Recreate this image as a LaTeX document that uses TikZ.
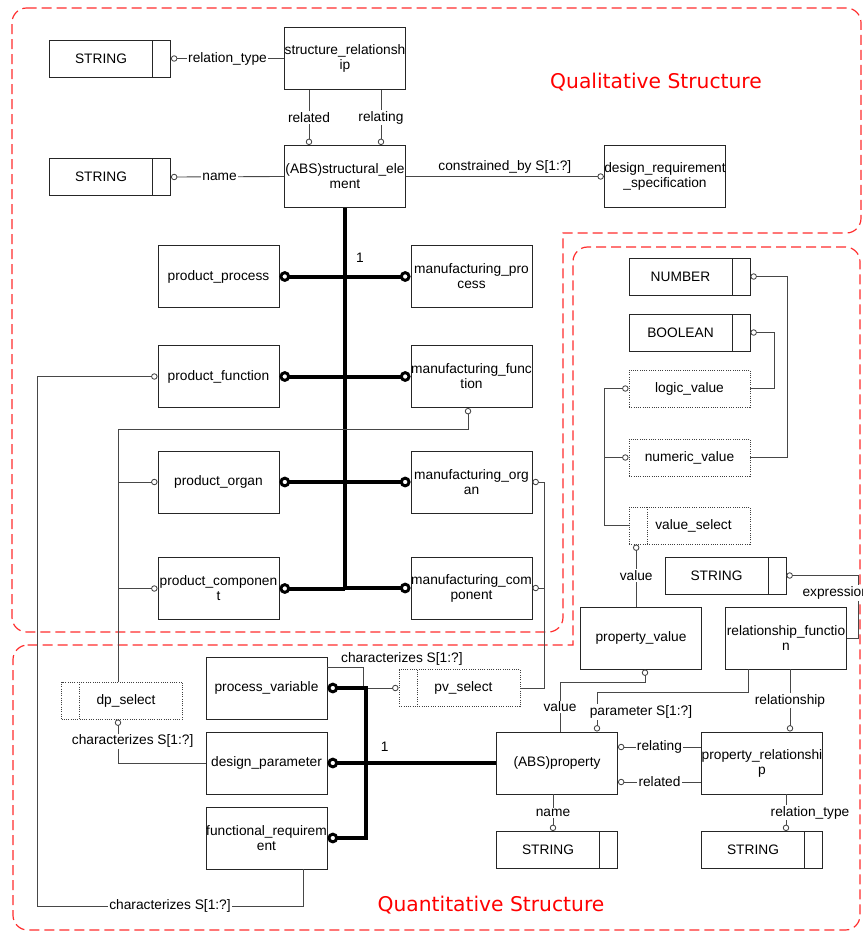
\documentclass[tikz,border=0pt]{standalone}
\usepackage{fontspec}
\setmainfont{Liberation Sans}
\newfontfamily\regionfont{DejaVu Sans}
\usetikzlibrary{arrows.meta}
\definecolor{regred}{RGB}{255,45,45}
\newcommand{\efont}{\fontsize{10.3}{11.3}\selectfont}
\tikzset{
  ent/.style={draw=black!85,line width=0.7pt,minimum width=90.75pt,minimum height=46.5pt,
              inner sep=0pt,align=center,font=\efont},
  typ/.style={ent,minimum height=27.75pt,
              path picture={\draw[black!85,line width=0.7pt]
                ([xshift=-13.5pt]path picture bounding box.north east) --
                ([xshift=-13.5pt]path picture bounding box.south east);}},
  sel/.style={ent,draw=black!75,densely dotted,minimum height=27.75pt},
  selx/.style={sel,path picture={\draw[black!75,densely dotted,line width=0.7pt]
                ([xshift=13.5pt]path picture bounding box.north west) --
                ([xshift=13.5pt]path picture bounding box.south west);}},
  rel/.style={draw=black!72,line width=0.65pt},
  super/.style={draw=black,line width=3pt},
  lbl/.style={fill=white,inner sep=1pt,font=\efont},
  region/.style={draw=regred,line width=0.9pt,dash pattern=on 7.5pt off 3.75pt},
  regtxt/.style={text=red,font=\regionfont\fontsize{15.2}{18}\selectfont},
  oc/.tip={Circle[open,length=4.8pt]},
  OC/.tip={Circle[open,length=8pt,line width=2.2pt]},
}

\begin{document}
\begin{tikzpicture}[x=0.75pt,y=-0.75pt]
  \useasboundingbox (0,0) rectangle (863,932);

  % the two dashed regions
  \draw[region,rounded corners=11pt] (12,8) -- (861,8) -- (861,233) [sharp corners] -- (563,233)
       [rounded corners=11pt] -- (563,632) -- (12,632) -- cycle;
  \draw[region,rounded corners=11pt] (13,645) [sharp corners] -- (573,645) [rounded corners=11pt]
       -- (573,247) -- (860,247) -- (860,930) -- (13,930) -- cycle;
  \node[regtxt] (qlt) at (656,82) {Qualitative Structure};
  \node[regtxt] (qnt) at (491,905) {Quantitative Structure};

  % qualitative part
  \node[typ] (s1) at (110,58.5) {STRING\hspace*{13.5pt}};
  \node[ent] (sr) at (345,58.5) {structure\_relationsh\\ip};
  \node[typ] (s2) at (110,177) {STRING\hspace*{13.5pt}};
  \node[ent] (se) at (345,176.5) {(ABS)structural\_ele\\ment};
  \node[ent] (drs) at (665,176.5) {design\_requirement\\\_specification};

  \node[ent] (pp) at (218.5,276.5) {product\_process};
  \node[ent] (pf) at (218.5,376.5) {product\_function};
  \node[ent] (po) at (218.5,482) {product\_organ};
  \node[ent] (pc) at (218.5,588.5) {product\_componen\\t};
  \node[ent] (mp) at (471.5,276.5) {manufacturing\_pro\\cess};
  \node[ent] (mf) at (471.5,376.5) {manufacturing\_func\\tion};
  \node[ent] (mo) at (471.5,482) {manufacturing\_org\\an};
  \node[ent] (mc) at (471.5,588) {manufacturing\_com\\ponent};

  % value types
  \node[typ] (num) at (689.5,276.5) {NUMBER\hspace*{13.5pt}};
  \node[typ] (bool) at (689.5,332.5) {BOOLEAN\hspace*{13.5pt}};
  \node[sel] (lv) at (689.5,388.5) {logic\_value};
  \node[sel] (nv) at (689.5,457.5) {numeric\_value};
  \node[selx] (vs) at (689.5,525.5) {\hspace*{6pt}value\_select};
  \node[typ] (s3) at (725.5,575.5) {STRING\hspace*{13.5pt}};

  % quantitative part
  \node[ent] (pv) at (641,638) {property\_value};
  \node[ent] (rf) at (786,638) {relationship\_functio\\n};
  \node[ent] (prop) at (557,763) {(ABS)property};
  \node[ent] (prel) at (762,763) {property\_relationshi\\p};
  \node[typ] (s4) at (557,850) {STRING\hspace*{13.5pt}};
  \node[typ] (s5) at (762,850) {STRING\hspace*{13.5pt}};

  \node[selx] (dps) at (122,700.5) {\hspace*{6pt}dp\_select};
  \node[ent] (pvar) at (266.5,688) {process\_variable};
  \node[ent] (dpar) at (266.5,763) {design\_parameter};
  \node[ent] (fr) at (266.5,838) {functional\_requirem\\ent};
  \node[selx] (pvs) at (459.5,688) {\hspace*{6pt}pv\_select};

  % attributes of the structural elements
  \draw[rel,{oc}-] (s1.east) -- node[lbl]{relation\_type} (sr.west);
  \coordinate (sra) at ([xshift=-27pt]sr.south);
  \coordinate (srb) at ([xshift=27pt]sr.south);
  \draw[rel,-{oc}] (sra) -- node[lbl]{related} (sra |- se.north);
  \draw[rel,-{oc}] (srb) -- node[lbl]{relating} (srb |- se.north);
  \draw[rel,{oc}-] (s2.east) -- node[lbl,pos=0.43]{name} (se.west);
  \draw[rel,-{oc}] (se.east) -- node[above=1pt,inner sep=1pt,font=\efont]{constrained\_by S[1:?]} (drs.west);

  % supertype tree
  \draw[super] (se.south) -- (se.south |- pc.east);
  \foreach \n in {pp,pf,po,pc}{\draw[super,-{OC}] (se.south |- \n.east) -- (\n.east);}
  \foreach \n in {mp,mf,mo,mc}{\draw[super,-{OC}] (se.south |- \n.west) -- (\n.west);}
  \node[font=\efont] (one1) at (360,258) {1};

  % selects
  \coordinate (dpin) at ([xshift=-3pt]dps.north);
  \draw[rel,{oc}-] ([xshift=-2.6pt]mf.south) -- ++(0,21) -| (dpin);
  \draw[rel,{oc}-] (po.west) -- (po.west -| dpin);
  \draw[rel,{oc}-] (pc.west) -- (pc.west -| dpin);
  \draw[rel,{oc}-] (mo.east) -- ++(12,0) |- (pvs.east);
  \draw[rel,{oc}-] (mc.east) -- ++(12,0);

  \draw[rel,{oc}-] (pf.west) -| (37,906) -| node[lbl,pos=0.25]{characterizes S[1:?]} ([xshift=27.4pt]fr.south);
  \draw[rel,{oc}-] ([xshift=-3pt]dps.south) |- node[lbl,pos=0.25,xshift=11pt]{characterizes S[1:?]} (dpar.west);
  \draw[rel,-{oc}] ([yshift=15.75pt]pvar.east)
       node[anchor=south west,inner sep=1pt,xshift=9pt,font=\efont]{characterizes S[1:?]}
       -- ++(36,0) |- (pvs.west);

  \draw[super,{OC}-{OC}] (pvar.east) -- ++(39,0) |- (fr.east);
  \draw[super,{OC}-] (dpar.east) -- node[pos=0.34,above=4pt,font=\efont]{1} (prop.west);

  % value types and property values
  \draw[rel,{oc}-] (num.east) -- ++(37,0) |- (nv.east);
  \draw[rel,{oc}-] (bool.east) -- ++(24,0) |- (lv.east);
  \draw[rel,{oc}-] (lv.west) -- ++(-24,0) |- (vs.west);
  \draw[rel,{oc}-] (nv.west) -- ++(-24,0);
  \coordinate (vsb) at ([xshift=-40pt]vs.south);
  \draw[rel,{oc}-] (vsb) -- node[lbl]{value} (vsb |- pv.north);
  \draw[rel,{oc}-] (s3.east) -- ++(72,0) |- node[lbl,pos=0.14,xshift=-17pt]{expression} (rf.east);

  \coordinate (pvb) at ([xshift=3pt]pv.south);
  \coordinate (prt1) at ([xshift=2.25pt]prop.north);
  \draw[rel,{oc}-] (pvb) -- ++(0,13) -| node[lbl,pos=0.75]{value} (prt1);
  \coordinate (rfb1) at ([xshift=-28.5pt]rf.south);
  \coordinate (prt2) at ([xshift=30pt]prop.north);
  \draw[rel,-{oc}] (rfb1) -- ++(0,23) -| node[lbl,pos=0.75,xshift=33pt]{parameter S[1:?]} (prt2);
  \coordinate (rfb2) at ([xshift=3pt]rf.south);
  \draw[rel,-{oc}] (rfb2) -- node[lbl]{relationship} (rfb2 |- prel.north);

  \draw[rel,-{oc}] ([yshift=12pt]prel.west) -- node[lbl]{relating} ([yshift=12pt]prop.east);
  \draw[rel,-{oc}] ([yshift=-14.25pt]prel.west) -- node[lbl]{related} ([yshift=-14.25pt]prop.east);
  \coordinate (prb) at ([xshift=-3pt]prop.south);
  \draw[rel,-{oc}] (prb) -- node[lbl]{name} (prb |- s4.north);
  \coordinate (plb) at ([xshift=18pt]prel.south);
  \draw[rel,-{oc}] (plb) -- node[lbl,xshift=18pt]{relation\_type} (plb |- s5.north);
\end{tikzpicture}
\end{document}
